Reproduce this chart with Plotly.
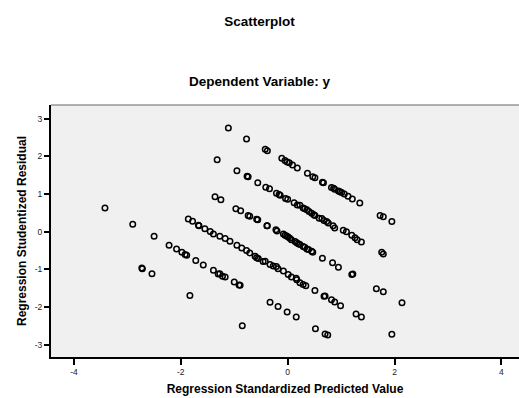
import plotly.graph_objects as go

# Regression Standardized Predicted Value (x) and Regression Studentized Residual (y)
pred_line_a = [-1.11, -0.77, -0.42, -0.38, -0.11, -0.05, -0.01, 0.03, 0.09, 0.18, 0.37, 0.47, 0.51, 0.65,
               0.67, 0.82, 0.86, 0.88, 0.95, 0.98, 1.01, 1.06, 1.13, 1.21, 1.35, 1.73, 1.79, 1.95]
resid_line_a = [2.75, 2.46, 2.19, 2.15, 1.95, 1.89, 1.85, 1.83, 1.77, 1.69, 1.55, 1.46, 1.43, 1.31,
                1.30, 1.17, 1.15, 1.13, 1.08, 1.06, 1.04, 1.00, 0.94, 0.87, 0.76, 0.43, 0.40, 0.27]

pred_line_b = [-1.32, -0.95, -0.76, -0.74, -0.56, -0.41, -0.34, -0.21, -0.16, -0.14, -0.04, 0.00, 0.12,
               0.18, 0.23, 0.29, 0.32, 0.36, 0.40, 0.45, 0.49, 0.51, 0.59, 0.64, 0.68, 0.73, 0.76, 0.85,
               0.88, 1.04, 1.10, 1.20, 1.26, 1.30, 1.38, 1.76, 1.79]
resid_line_b = [1.91, 1.62, 1.47, 1.46, 1.30, 1.18, 1.14, 1.02, 0.99, 0.97, 0.88, 0.86, 0.77,
                0.71, 0.70, 0.63, 0.61, 0.58, 0.54, 0.49, 0.45, 0.43, 0.36, 0.35, 0.30, 0.27, 0.23, 0.16,
                0.10, 0.04, 0.00, -0.09, -0.16, -0.21, -0.27, -0.54, -0.59]

pred_line_c = [-1.36, -1.25, -0.97, -0.88, -0.74, -0.71, -0.58, -0.56, -0.39, -0.38, -0.22, -0.20, -0.08,
               -0.05, -0.02, 0.01, 0.04, 0.07, 0.14, 0.17, 0.20, 0.23, 0.29, 0.32, 0.36, 0.39, 0.45, 0.47,
               0.65, 0.84, 0.95, 1.20, 1.22, 1.66, 1.79, 2.14]
resid_line_c = [0.93, 0.85, 0.61, 0.56, 0.43, 0.41, 0.33, 0.32, 0.16, 0.16, 0.05, 0.02, -0.06,
                -0.09, -0.11, -0.14, -0.17, -0.21, -0.26, -0.29, -0.32, -0.34, -0.39, -0.41, -0.46, -0.47,
                -0.52, -0.54, -0.70, -0.82, -0.94, -1.13, -1.12, -1.51, -1.59, -1.88]

pred_line_d = [-1.86, -1.78, -1.67, -1.66, -1.55, -1.45, -1.39, -1.27, -1.17, -1.08, -0.95, -0.86, -0.77,
               -0.71, -0.61, -0.58, -0.55, -0.46, -0.42, -0.33, -0.27, -0.21, -0.18, -0.08, 0.01, 0.07,
               0.16, 0.17, 0.23, 0.29, 0.34, 0.51, 0.68, 0.70, 0.82, 0.88, 0.99, 1.28, 1.38, 1.95]
resid_line_d = [0.34, 0.28, 0.17, 0.16, 0.08, 0.01, -0.06, -0.12, -0.18, -0.25, -0.36, -0.43, -0.50,
                -0.56, -0.65, -0.69, -0.71, -0.79, -0.78, -0.87, -0.91, -0.92, -0.98, -1.04, -1.13, -1.20,
                -1.23, -1.27, -1.35, -1.40, -1.43, -1.56, -1.71, -1.70, -1.80, -1.86, -1.96, -2.18, -2.26,
                -2.72]

pred_line_e = [-3.42, -2.90, -2.50, -2.22, -2.08, -1.98, -1.92, -1.89, -1.72, -1.58, -1.39, -1.30, -1.27,
               -1.22, -1.17, -1.00, -0.91, -0.89, -0.33, -0.18, -0.01, 0.16, 0.52, 0.70, 0.75]
resid_line_e = [0.63, 0.20, -0.12, -0.36, -0.46, -0.54, -0.60, -0.62, -0.76, -0.88, -1.02, -1.12, -1.11,
                -1.18, -1.20, -1.33, -1.41, -1.42, -1.87, -1.98, -2.13, -2.26, -2.57, -2.71, -2.74]

pred_line_f = [-2.73, -2.72, -2.54, -1.83, -0.85]
resid_line_f = [-0.96, -0.98, -1.11, -1.69, -2.49]

x_tick_vals = [-4, -2, 0, 2, 4]
y_tick_vals = [-3, -2, -1, 0, 1, 2, 3]

predicted = pred_line_a + pred_line_b + pred_line_c + pred_line_d + pred_line_e + pred_line_f
residual = resid_line_a + resid_line_b + resid_line_c + resid_line_d + resid_line_e + resid_line_f

FONT = "Liberation Sans, Arial, sans-serif"

fig = go.Figure()
fig.add_trace(go.Scatter(
    x=predicted, y=residual, mode="markers",
    marker=dict(symbol="circle-open", size=5.5, color="black", line=dict(width=1.5)),
    showlegend=False, hoverinfo="x+y",
))

fig.update_layout(
    width=519, height=398,
    margin=dict(l=51, r=0, t=105, b=41),
    paper_bgcolor="white",
    plot_bgcolor="#f0f0f0",
    font=dict(family=FONT, color="black"),
    title=dict(text="<b>Scatterplot</b>", x=0.5, xref="container", y=1 - 21 / 398,
               yref="container", xanchor="center", yanchor="middle",
               font=dict(size=13.5, family=FONT, color="black")),
    annotations=[dict(text="<b>Dependent Variable: y</b>", x=(259.5 - 51) / 468, xref="paper",
                      y=(357.3 - 82) / 252, yref="paper", xanchor="center", yanchor="middle",
                      showarrow=False, font=dict(size=13.5, family=FONT, color="black"))],
    shapes=[dict(type="line", xref="paper", yref="paper", x0=0, x1=1, y0=1, y1=1,
                 line=dict(color="#666666", width=1))],
)

fig.update_xaxes(
    range=[-4.43, 4.33], tickvals=x_tick_vals, ticktext=[str(v) for v in x_tick_vals],
    showgrid=False, zeroline=False, showline=True, linecolor="black", linewidth=2,
    ticks="outside", ticklen=6, tickwidth=2, tickcolor="black",
    tickfont=dict(size=8.5, color="#222222", family=FONT),
    title=dict(text="<b>Regression Standardized Predicted Value</b>",
               font=dict(size=12, family=FONT, color="black"), standoff=8),
)
fig.update_yaxes(
    range=[-3.32, 3.36], tickvals=y_tick_vals, ticktext=[str(v) for v in y_tick_vals],
    showgrid=False, zeroline=False, showline=True, linecolor="black", linewidth=2,
    ticks="outside", ticklen=5, tickwidth=1.5, tickcolor="black",
    tickfont=dict(size=8.5, color="#222222", family=FONT),
    title=dict(text="<b>Regression Studentized Residual</b>",
               font=dict(size=12, family=FONT, color="black"), standoff=6),
)

fig.write_html(
    "out.html",
    config={"displayModeBar": False},
    post_script="document.body.style.margin='0';document.body.style.overflow='hidden';",
)
